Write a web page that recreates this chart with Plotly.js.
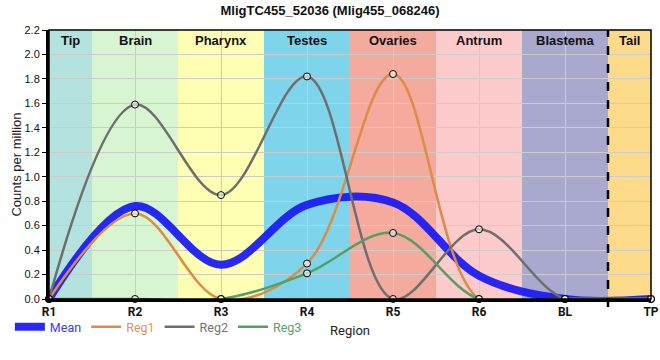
<!DOCTYPE html>
<html>
<head>
<meta charset="utf-8">
<script src="https://cdn.plot.ly/plotly-3.0.1.min.js"></script>
<style>html,body{margin:0;padding:0;background:#fff;}#chart{width:660px;height:360px;}</style>
</head>
<body>
<div id="chart"></div>
<script>
const categories = ["R1","R2","R3","R4","R5","R6","BL","TP"];
const reg1 = [0, 0.70, 0, 0.29, 1.84, 0, 0, 0];
const reg2 = [0, 1.59, 0.85, 1.82, 0, 0.57, 0, 0];
const reg3 = [0, 0, 0, 0.21, 0.54, 0, 0, 0];
const meanVals = [0, 0.76, 0.28, 0.77, 0.79, 0.19, 0, 0];
const regionNames = ["Tip","Brain","Pharynx","Testes","Ovaries","Antrum","Blastema","Tail"];
const regionStarts = [0, 0.5, 1.5, 2.5, 3.5, 4.5, 5.5, 6.5];
const regionEnds = [0.5, 1.5, 2.5, 3.5, 4.5, 5.5, 6.5, 7];
const regionColors = ["#B4E2DE","#D6F5D0","#FFFFB4","#7ED4EA","#F4AA9C","#FDCBCB","#A9A8CF","#FDDB8B"];

const xs = categories.map((c,i)=>i);
const sm = 1.0;
const traces = [
  {x: xs, y: meanVals, mode:'lines', name:'<span style="color:#3a3aff">Mean</span>',
   line:{color:'rgba(25,25,245,0.93)', width:8, shape:'spline', smoothing:sm}},
  {x: xs, y: reg1, mode:'lines', name:'<span style="color:#E0935A">Reg1</span>',
   line:{color:'#DE8B45', width:2.5, shape:'spline', smoothing:sm}},
  {x: xs, y: reg2, mode:'lines', name:'<span style="color:#747474">Reg2</span>',
   line:{color:'#6E6E6E', width:2.5, shape:'spline', smoothing:sm}},
  {x: xs, y: reg3, mode:'lines', name:'<span style="color:#5AA06A">Reg3</span>',
   line:{color:'#579E66', width:2.5, shape:'spline', smoothing:sm}},
];
[reg1, reg2, reg3].forEach(r => traces.push({
  x: xs, y: r, mode:'markers', showlegend:false, cliponaxis:false,
  marker:{size:7, color:'rgba(255,255,255,0.6)', line:{color:'#000', width:1}}
}));

const shapes = regionNames.map((n,i)=>({
  type:'rect', xref:'x', yref:'paper', x0:regionStarts[i], x1:regionEnds[i], y0:0, y1:1,
  fillcolor:regionColors[i], line:{width:0}, layer:'below'
}));
shapes.push({type:'line', xref:'x', yref:'paper', x0:6.5, x1:6.5, y0:-0.03, y1:1,
  line:{color:'#000', width:2.5, dash:'dash'}});
shapes.push({type:'rect', xref:'paper', yref:'paper', x0:0, x1:1, y0:0, y1:1,
  line:{color:'#000', width:1.5}});

const annotations = regionNames.map((n,i)=>({
  text:'<b>'+n+'</b>', x:(regionStarts[i]+regionEnds[i])/2, xref:'x', y:0.995, yref:'paper',
  yanchor:'top', showarrow:false, font:{family:'Liberation Sans, Arial', size:13, color:'#111'}
}));

const layout = {
  width:660, height:360,
  margin:{l:49, r:9, t:30, b:61},
  paper_bgcolor:'#fff', plot_bgcolor:'#fff',
  title:{text:'<b>MligTC455_52036 (Mlig455_068246)</b>', x:0.5, xanchor:'center', y:0.985, yanchor:'top',
    font:{family:'Liberation Sans, Arial', size:13, color:'#111'}},
  xaxis:{range:[0,7], tickvals:xs, ticktext:categories.map(c=>'<b>'+c+'</b>'),
    tickfont:{family:'Roboto, Liberation Sans', size:12, color:'#111'},
    showgrid:true, gridcolor:'#cccccc', gridwidth:1, zeroline:false,
    showline:true, linecolor:'#000', linewidth:3, ticks:'',
    title:{text:'Region', standoff:8, font:{family:'Roboto, Liberation Sans', size:13, color:'#222'}}},
  yaxis:{range:[0,2.2], dtick:0.2, tickformat:'.1f',
    tickfont:{family:'Liberation Sans, Arial', size:11, color:'#111'},
    showgrid:true, gridcolor:'#cccccc', gridwidth:1, zeroline:false,
    showline:true, linecolor:'#000', linewidth:3, ticks:'outside', ticklen:4, tickcolor:'#000',
    title:{text:'Counts per million', standoff:0, font:{family:'Liberation Sans, Arial', size:13, color:'#222'}}},
  legend:{orientation:'h', x:-0.065, xanchor:'left', y:-0.105, yanchor:'middle',
    font:{family:'Roboto, Liberation Sans', size:12.5}, bgcolor:'rgba(0,0,0,0)',
    itemwidth:30},
  shapes:shapes, annotations:annotations, showlegend:true
};
Plotly.newPlot('chart', traces, layout, {displayModeBar:false, staticPlot:true});
</script>
</body>
</html>
